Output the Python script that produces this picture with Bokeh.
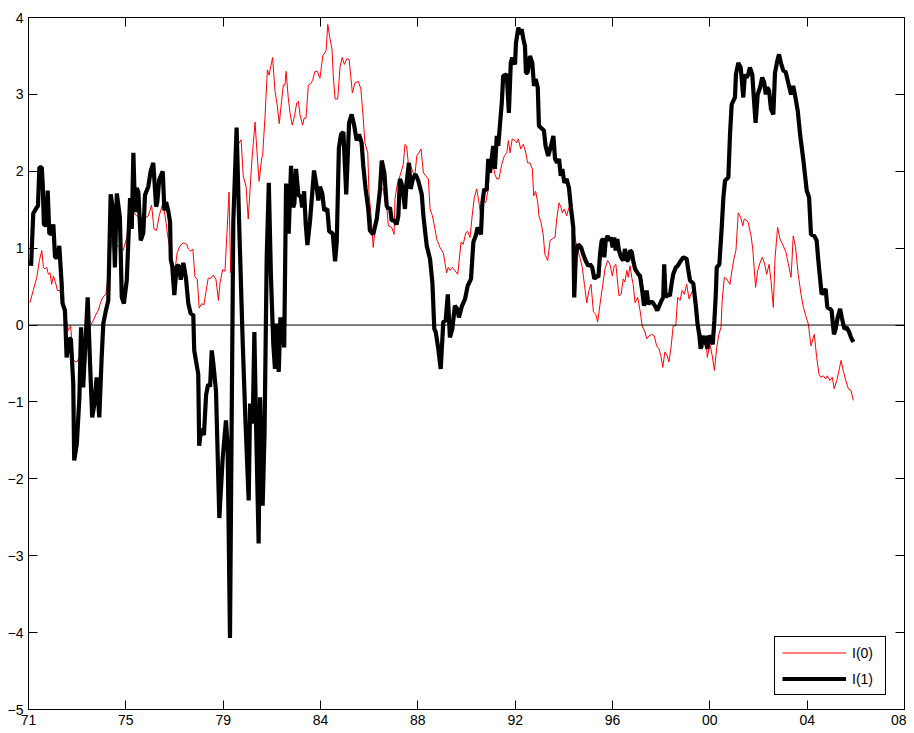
from bokeh.plotting import figure
from bokeh.models import (Range1d, LinearAxis, FixedTicker, Span, Legend, LegendItem,
                          CustomJSTickFormatter, CustomLabelingPolicy)
from bokeh.embed import file_html
from bokeh.resources import INLINE

# ---------------- data (decimal year, value) ----------------
i1_year = [
1971.11,1971.20,1971.35,1971.40,1971.46,1971.56,1971.60,1971.65,1971.74,1971.81,1971.88,1971.98,
1972.05,1972.12,1972.22,1972.30,1972.40,1972.44,1972.54,1972.61,1972.72,1972.79,1972.89,1972.93,
1973.04,1973.15,1973.22,1973.29,1973.31,1973.39,1973.50,1973.60,1973.69,1973.77,1973.88,1973.99,
1974.09,1974.16,1974.27,1974.37,1974.47,1974.57,1974.65,1974.73,1974.86,1974.94,
1975.03,1975.15,1975.29,1975.36,1975.43,1975.50,1975.57,1975.64,1975.74,1975.85,1975.92,
1976.06,1976.16,1976.27,1976.39,1976.44,1976.52,1976.67,1976.74,1976.81,1976.90,1976.98,
1977.01,1977.07,1977.16,1977.26,1977.36,1977.43,1977.54,1977.65,1977.75,1977.85,1977.96,
1978.00,1978.10,1978.17,1978.21,1978.29,1978.41,1978.50,1978.59,1978.67,1978.74,1978.81,1978.92,
1979.06,1979.20,1979.34,1979.41,1979.51,1979.58,1979.65,1979.79,1979.89,
1980.05,1980.17,1980.30,1980.36,1980.47,1980.54,1980.61,1980.72,1980.78,1980.89,1980.97,
1981.06,1981.15,1981.24,1981.34,1981.41,1981.48,1981.57,1981.64,1981.74,1981.80,1981.88,1981.99,
1982.09,1982.18,1982.23,1982.30,1982.40,1982.50,1982.56,1982.64,1982.71,1982.78,1982.89,
1983.06,1983.17,1983.24,1983.31,1983.41,1983.49,1983.62,1983.70,1983.85,1983.95,
1984.02,1984.11,1984.20,1984.30,1984.42,1984.54,1984.65,1984.76,1984.86,1984.96,
1985.07,1985.14,1985.24,1985.35,1985.42,1985.56,1985.71,1985.85,1985.92,
1986.03,1986.13,1986.20,1986.27,1986.34,1986.45,1986.55,1986.62,1986.69,1986.79,1986.90,1986.97,
1987.07,1987.14,1987.25,1987.35,1987.46,1987.61,1987.68,1987.82,1987.96,
1988.06,1988.14,1988.20,1988.31,1988.41,1988.52,1988.62,1988.71,1988.80,1988.90,
1989.01,1989.11,1989.18,1989.31,1989.44,1989.55,1989.69,1989.79,1989.89,1989.97,
1990.11,1990.17,1990.25,1990.35,1990.42,1990.49,1990.56,1990.63,1990.70,1990.78,1990.84,1990.91,1990.99,
1991.05,1991.20,1991.29,1991.37,1991.43,1991.55,1991.59,1991.69,1991.76,1991.83,1991.90,1991.97,
1992.01,1992.08,1992.18,1992.28,1992.35,1992.42,1992.51,1992.56,1992.70,1992.77,1992.84,1992.95,
1993.07,1993.17,1993.24,1993.33,1993.41,1993.48,1993.55,1993.63,1993.73,1993.83,1993.91,
1994.01,1994.05,1994.12,1994.22,1994.34,1994.43,1994.53,1994.64,1994.72,1994.81,1994.90,
1995.00,1995.07,1995.14,1995.21,1995.28,1995.32,1995.38,1995.46,1995.53,1995.60,1995.67,1995.74,1995.80,1995.87,1995.94,
1996.03,1996.12,1996.19,1996.27,1996.33,1996.41,1996.48,1996.54,1996.62,1996.76,1996.83,1996.92,
1997.00,1997.07,1997.11,1997.18,1997.25,1997.35,1997.46,1997.56,1997.64,1997.74,1997.81,1997.85,1997.91,
1998.00,1998.09,1998.17,1998.23,1998.34,1998.42,1998.56,1998.66,1998.80,1998.87,1998.94,
1999.08,1999.18,1999.26,1999.33,1999.39,1999.46,1999.54,1999.60,1999.67,1999.74,1999.83,1999.90,1999.97,
2000.03,2000.07,2000.18,2000.28,2000.35,2000.42,2000.56,2000.63,2000.70,2000.84,2000.88,2000.98,
2001.08,2001.12,2001.19,2001.26,2001.33,2001.40,2001.47,2001.57,2001.64,2001.71,2001.80,2001.90,2001.99,
2002.07,2002.14,2002.20,2002.28,2002.36,2002.46,2002.53,2002.63,2002.70,2002.78,2002.88,2002.98,
2003.09,2003.21,2003.30,2003.37,2003.49,2003.59,2003.73,2003.87,2003.97,
2004.05,2004.19,2004.29,2004.36,2004.50,2004.61,2004.67,2004.74,2004.85,2004.92,
2005.02,2005.09,2005.18,2005.28,2005.35,2005.46,2005.56,2005.66,2005.74,2005.84]
i1_value = [
0.77,1.45,1.53,1.55,2.05,2.05,1.84,1.31,1.29,1.75,1.19,1.19,
1.31,0.88,0.88,1.03,0.54,0.28,0.19,-0.42,-0.18,-0.18,-0.76,-1.76,
-1.55,-0.94,-0.03,-0.68,-0.81,-0.33,0.36,-0.50,-1.20,-1.05,-0.68,-1.20,
-0.42,0.02,0.19,0.32,1.70,1.50,0.75,1.71,1.40,0.36,
0.28,0.58,1.65,1.25,2.24,1.47,1.78,1.73,1.10,1.20,1.69,
1.80,2.00,2.11,1.54,1.60,1.89,2.00,1.49,1.60,1.49,1.34,
0.85,0.77,0.39,0.77,0.77,0.59,0.81,0.61,0.28,0.15,0.13,
-0.33,-0.51,-0.64,-1.57,-1.35,-1.43,-0.91,-0.77,-0.80,-0.33,-0.51,-0.86,
-2.51,-1.74,-1.24,-1.57,-4.07,-1.30,1.34,2.57,1.40,
-0.25,-1.30,-2.28,-1.02,-1.28,-0.09,-1.28,-2.84,-0.94,-2.35,-1.40,
0.86,1.85,0.63,-0.25,-0.57,0.02,-0.61,0.10,-0.10,-0.29,1.84,1.19,
2.07,1.53,1.58,2.03,1.69,1.67,1.53,1.74,1.31,1.04,1.35,
2.01,1.80,1.62,1.80,1.71,1.49,1.51,1.22,1.19,0.83,
1.08,2.30,2.48,2.51,1.70,2.63,2.74,2.59,2.40,2.48,
2.37,2.07,1.77,1.51,1.23,1.18,1.38,1.77,2.14,
1.98,1.55,1.51,1.53,1.36,1.36,1.31,1.42,1.90,1.81,1.51,1.85,
2.11,1.77,1.92,1.96,1.88,1.70,1.42,1.03,0.86,
0.55,-0.05,-0.09,-0.31,-0.57,0.04,0.06,0.40,-0.16,-0.05,
0.25,0.21,0.10,0.25,0.34,0.51,0.60,1.08,1.16,1.27,
1.18,1.59,1.77,1.75,2.16,1.98,2.16,2.33,2.03,2.46,2.33,2.59,2.89,
3.24,3.26,2.76,3.41,3.48,3.39,3.67,3.87,3.78,3.85,3.72,3.63,
3.28,3.28,3.50,3.41,3.11,3.20,3.09,2.59,2.55,2.53,2.33,2.20,
2.33,2.46,2.16,2.11,2.16,1.94,2.03,1.85,1.90,1.78,1.53,
1.27,0.36,0.92,1.05,1.01,0.92,0.84,0.77,0.79,0.75,0.60,
0.64,0.62,0.92,1.10,1.12,0.88,1.10,1.16,1.10,1.14,1.01,1.14,0.97,1.12,0.97,
0.88,0.84,0.99,0.84,0.84,0.97,0.95,0.84,0.73,0.66,0.64,0.45,
0.25,0.36,0.45,0.27,0.30,0.30,0.25,0.19,0.25,0.32,0.36,0.79,0.36,
0.40,0.38,0.55,0.66,0.75,0.77,0.84,0.88,0.86,0.71,0.58,
0.54,0.27,0.01,-0.12,-0.31,-0.14,-0.25,-0.14,-0.31,-0.14,-0.18,-0.25,0.06,
0.40,0.75,0.79,1.27,1.66,1.88,1.92,2.48,2.87,2.96,3.26,3.41,
3.35,3.22,2.96,3.26,3.22,3.26,3.35,3.26,2.94,2.63,3.00,3.09,3.22,
3.16,3.00,3.09,3.05,2.81,2.74,3.28,3.44,3.52,3.41,3.31,3.29,
3.15,3.00,3.11,3.00,2.79,2.48,2.14,1.75,1.66,
1.18,1.16,1.10,0.84,0.40,0.44,0.47,0.23,0.21,0.19,
-0.12,-0.05,0.10,0.21,0.10,-0.05,-0.03,-0.09,-0.16,-0.22]

i0_year = [
1971.06,1971.20,1971.35,1971.46,1971.56,1971.63,1971.70,1971.77,1971.84,1971.91,1971.98,
1972.05,1972.16,1972.22,1972.33,1972.40,1972.54,1972.68,1972.78,1972.89,
1973.04,1973.15,1973.25,1973.39,1973.53,1973.64,1973.74,1973.85,1973.95,
1974.02,1974.13,1974.27,1974.40,1974.51,1974.70,1974.86,
1975.00,1975.16,1975.29,1975.57,1975.85,
1976.06,1976.20,1976.30,1976.41,1976.52,1976.65,1976.74,1976.81,1976.86,1976.98,
1977.09,1977.19,1977.28,1977.40,1977.54,1977.68,1977.75,1977.85,1977.94,
1978.03,1978.13,1978.21,1978.32,1978.41,1978.50,1978.59,1978.70,1978.81,1978.92,
1979.02,1979.09,1979.20,1979.30,1979.47,1979.54,1979.86,1979.98,
1980.07,1980.19,1980.28,1980.43,1980.57,1980.64,1980.74,1980.85,1980.89,1980.99,
1981.09,1981.16,1981.23,1981.31,1981.41,1981.51,1981.59,1981.69,1981.76,1981.83,1981.88,1981.97,
1982.05,1982.14,1982.23,1982.33,1982.40,1982.47,1982.58,1982.64,1982.72,1982.82,1982.92,
1983.00,1983.10,1983.20,1983.31,1983.43,1983.57,1983.64,1983.73,1983.82,1983.87,1983.95,
1984.06,1984.16,1984.25,1984.34,1984.44,1984.54,1984.68,1984.79,1984.93,
1985.04,1985.14,1985.21,1985.33,1985.38,1985.47,1985.56,1985.64,1985.77,1985.89,1985.99,
1986.06,1986.13,1986.20,1986.34,1986.44,1986.48,1986.59,1986.69,1986.83,1986.90,1986.97,
1987.04,1987.14,1987.25,1987.32,1987.40,1987.49,1987.58,1987.68,1987.78,1987.89,1987.96,
1988.06,1988.17,1988.24,1988.38,1988.52,1988.59,1988.66,1988.73,1988.80,1988.90,
1989.01,1989.13,1989.27,1989.36,1989.47,1989.55,1989.65,1989.74,1989.83,1989.93,
1990.03,1990.11,1990.21,1990.31,1990.42,1990.49,1990.59,1990.70,1990.78,1990.87,1990.99,
1991.10,1991.20,1991.27,1991.34,1991.43,1991.55,1991.62,1991.69,1991.79,1991.90,
1992.00,1992.08,1992.18,1992.28,1992.34,1992.42,1992.51,1992.56,1992.65,1992.74,1992.81,1992.93,
1993.03,1993.12,1993.24,1993.31,1993.41,1993.49,1993.55,1993.63,1993.73,1993.83,1993.97,
1994.15,1994.29,1994.39,1994.48,1994.58,1994.67,1994.76,1994.86,1994.96,
1995.04,1995.14,1995.24,1995.35,1995.46,1995.56,1995.66,1995.74,1995.81,1995.89,1995.94,
1996.03,1996.12,1996.19,1996.27,1996.33,1996.41,1996.48,1996.54,1996.62,1996.73,1996.83,1996.92,
1997.04,1997.11,1997.21,1997.32,1997.43,1997.53,1997.63,1997.71,1997.79,1997.88,1997.98,
1998.05,1998.14,1998.23,1998.34,1998.42,1998.52,1998.61,1998.70,1998.80,1998.90,1998.98,
1999.08,1999.18,1999.29,1999.40,1999.50,1999.62,1999.67,1999.78,1999.88,1999.97,
2000.07,2000.16,2000.25,2000.30,2000.39,2000.49,2000.63,2000.73,2000.81,2000.88,2000.98,
2001.08,2001.17,2001.23,2001.33,2001.40,2001.52,2001.59,2001.71,2001.80,2001.90,2001.99,
2002.08,2002.18,2002.28,2002.36,2002.46,2002.53,2002.64,2002.74,2002.88,2002.99,
2003.09,2003.21,2003.30,2003.40,2003.51,2003.63,2003.73,2003.83,2003.94,
2004.05,2004.19,2004.29,2004.39,2004.47,2004.57,2004.67,2004.74,2004.85,2004.95,
2005.03,2005.14,2005.20,2005.32,2005.41,2005.52,2005.63,2005.74,2005.84]
i0_value = [
0.29,0.45,0.62,0.84,0.97,0.75,0.73,0.75,0.66,0.68,0.53,
0.64,0.53,0.45,0.45,0.27,0.19,-0.07,-0.01,-0.46,
-0.48,-0.42,-0.33,-0.29,-0.05,0.01,0.06,0.14,0.19,
0.27,0.36,0.40,0.75,1.10,1.05,1.00,
0.97,1.15,1.51,1.42,1.38,
1.42,1.56,1.25,1.23,1.42,1.56,1.47,1.34,1.20,0.99,
0.81,0.72,0.94,1.03,1.07,1.05,0.99,0.96,0.99,
0.63,0.59,0.22,0.28,0.26,0.44,0.61,0.61,0.65,0.59,
0.32,0.55,0.72,0.70,1.73,0.68,2.35,2.41,
1.94,1.80,1.38,2.12,2.64,2.30,1.87,2.17,2.21,2.71,
3.32,3.25,3.36,3.48,3.05,2.85,2.62,2.91,3.12,3.12,3.30,2.96,
2.75,2.60,2.71,2.89,2.91,2.73,2.60,2.69,2.69,3.12,3.14,
3.18,3.30,3.30,3.21,3.50,3.57,3.91,3.73,3.59,3.25,2.94,
2.94,3.36,3.48,3.39,3.46,3.46,3.02,3.15,3.17,
3.07,2.68,2.37,2.24,1.72,1.42,1.01,1.25,1.42,1.77,1.77,
1.59,1.55,1.29,1.27,1.18,1.64,1.85,1.94,2.09,2.35,2.33,
2.11,2.07,1.98,1.94,2.20,2.24,2.29,1.98,1.94,1.90,1.51,
1.42,1.25,1.12,1.01,0.94,0.81,0.68,0.75,0.71,0.75,
0.71,0.66,1.08,1.05,1.20,1.22,1.14,1.42,1.66,1.77,
1.59,1.38,1.62,1.59,1.77,2.11,2.14,1.96,1.90,1.90,2.09,
2.20,2.24,2.40,2.24,2.42,2.40,2.37,2.42,2.29,2.35,
2.25,2.11,2.11,2.03,1.68,1.74,1.59,1.42,1.33,1.18,0.92,0.84,
1.10,1.12,1.14,1.38,1.59,1.53,1.46,1.51,1.42,1.53,1.38,
1.01,0.88,0.75,0.53,0.29,0.45,0.53,0.17,0.14,
0.04,0.27,0.49,0.73,0.84,0.79,0.64,0.77,0.79,0.53,0.38,
0.40,0.60,0.56,0.71,0.62,0.77,0.62,0.53,0.29,0.36,0.19,-0.01,
-0.09,-0.18,-0.14,-0.12,-0.14,-0.27,-0.31,-0.40,-0.55,-0.35,-0.40,
-0.48,-0.29,-0.01,-0.01,0.36,0.32,0.45,0.40,0.53,0.34,0.40,
0.47,0.23,-0.07,-0.11,-0.29,-0.20,-0.42,-0.25,-0.40,-0.59,
-0.29,-0.12,-0.03,0.32,0.62,0.60,0.53,0.75,0.88,0.97,1.46,
1.40,1.29,1.38,1.36,1.33,1.16,0.99,0.49,0.71,0.81,0.88,
0.81,0.66,0.79,0.58,0.23,0.86,1.27,1.12,1.03,0.95,
0.80,0.62,1.16,1.01,0.66,0.40,0.23,0.12,0.01,
-0.27,-0.12,-0.42,-0.64,-0.68,-0.66,-0.70,-0.66,-0.72,-0.68,
-0.83,-0.72,-0.64,-0.46,-0.59,-0.72,-0.83,-0.85,-0.98]

x_tick_labels = ["71", "75", "79", "84", "88", "92", "96", "00", "04", "08"]
y_ticks = [-5, -4, -3, -2, -1, 0, 1, 2, 3, 4]
series_labels = ["I(0)", "I(1)"]

X0, X1 = 1971.0, 2008.0
x_ticks = [X0 + i * (X1 - X0) / (len(x_tick_labels) - 1) for i in range(len(x_tick_labels))]

FONT = "Liberation Sans"
FS = "14px"

p = figure(width=906, height=730, output_backend="svg", toolbar_location=None,
           x_range=Range1d(X0, X1), y_range=Range1d(-5, 4),
           min_border_left=28, min_border_right=2, min_border_top=17, min_border_bottom=21,
           x_axis_location=None, y_axis_location=None)
p.background_fill_color = "white"
p.border_fill_color = "white"
p.outline_line_color = "black"
p.outline_line_width = 1
p.xgrid.visible = False
p.ygrid.visible = False

xfmt = CustomJSTickFormatter(args=dict(labels=x_tick_labels, x0=X0, x1=X1), code="""
const n = labels.length - 1;
const i = Math.round((tick - x0) * n / (x1 - x0));
return labels[i];
""")
ylab = {v: (("\u2212" + str(-v)) if v < 0 else str(v)) for v in y_ticks}

def style_axis(ax, show_labels):
    ax.axis_line_color = "black"
    ax.major_tick_line_color = "black"
    ax.major_tick_in = 9
    ax.major_tick_out = 0
    ax.minor_tick_line_color = None
    ax.major_label_text_font = FONT
    ax.major_label_text_color = "black"
    if show_labels:
        ax.major_label_text_font_size = FS
    else:
        ax.major_label_text_font_size = "0px"
        ax.major_label_standoff = 0
        ax.major_label_policy = CustomLabelingPolicy(code="return []")

xb = LinearAxis(ticker=FixedTicker(ticks=x_ticks), formatter=xfmt)
style_axis(xb, True)
xb.major_label_standoff = 5
xt = LinearAxis(ticker=FixedTicker(ticks=x_ticks))
style_axis(xt, False)
yl = LinearAxis(ticker=FixedTicker(ticks=y_ticks), major_label_overrides=ylab)
style_axis(yl, True)
yl.major_label_standoff = 5
yr = LinearAxis(ticker=FixedTicker(ticks=y_ticks))
style_axis(yr, False)
p.add_layout(xb, "below")
p.add_layout(xt, "above")
p.add_layout(yl, "left")
p.add_layout(yr, "right")

p.add_layout(Span(location=0, dimension="width", line_color="black", line_width=1))

r0 = p.line(i0_year, i0_value, line_color="#ff0000", line_width=1)
r1 = p.line(i1_year, i1_value, line_color="black", line_width=4.2)

legend = Legend(items=[LegendItem(label=series_labels[0], renderers=[r0]),
                       LegendItem(label=series_labels[1], renderers=[r1])],
                location=(746, 14), margin=0, padding=7, spacing=9,
                glyph_width=64, glyph_height=17, label_height=17, label_width=26,
                label_standoff=6, label_text_font=FONT, label_text_font_size=FS,
                label_text_color="black",
                border_line_color="black", border_line_width=1, border_line_alpha=1.0,
                background_fill_color="white", background_fill_alpha=1.0)
p.add_layout(legend)

open("out.html", "w").write(file_html(p, INLINE))
